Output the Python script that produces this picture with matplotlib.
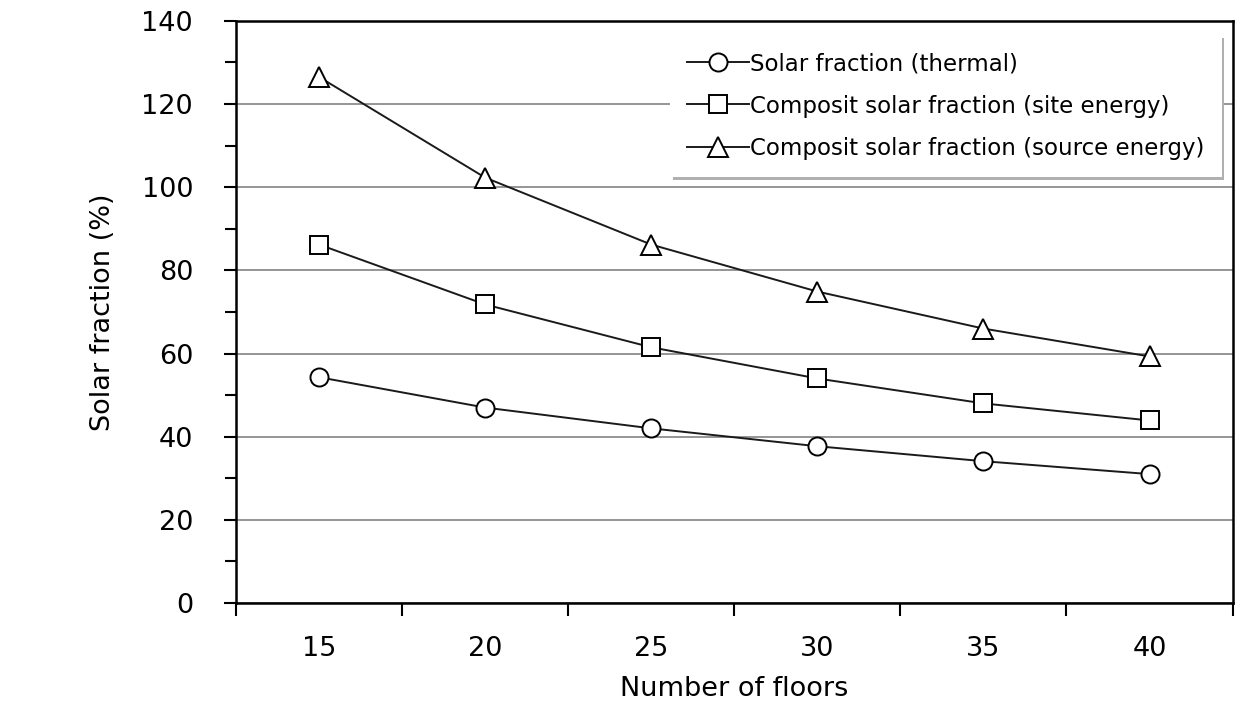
import matplotlib
matplotlib.use("Agg")
import matplotlib.pyplot as plt
from matplotlib.ticker import MultipleLocator, FixedLocator, NullFormatter

floors = ["15", "20", "25", "30", "35", "40"]
solar_thermal = [54.3, 47.0, 42.0, 37.7, 34.1, 31.0]
composite_site = [86.2, 71.8, 61.5, 54.0, 48.0, 43.9]
composite_source = [126.5, 102.3, 86.2, 74.9, 66.0, 59.3]
labels = ["Solar fraction (thermal)",
          "Composit solar fraction (site energy)",
          "Composit solar fraction (source energy)"]

plt.rcParams['font.family'] = ['DejaVu Sans']

fig = plt.figure(figsize=(12.59, 7.2), dpi=100)
ax = fig.add_axes([0.1875, 0.1625, 0.7915, 0.8085])

x = list(range(len(floors)))
common = dict(color="#1a1a1a", lw=1.4, markerfacecolor="white",
              markeredgecolor="black", markeredgewidth=1.4, zorder=3)
ax.plot(x, solar_thermal, marker="o", ms=13, label=labels[0], **common)
ax.plot(x, composite_site, marker="s", ms=12.5, label=labels[1], **common)
ax.plot(x, composite_source, marker="^", ms=14, label=labels[2], **common)

ax.set_xlim(-0.5, len(floors) - 0.5)
ax.set_ylim(0, 140)
ax.yaxis.set_major_locator(MultipleLocator(20))
ax.yaxis.set_minor_locator(MultipleLocator(10))
ax.grid(axis="y", which="major", color="#8c8c8c", lw=1.3, zorder=1)

ax.xaxis.set_major_locator(FixedLocator([i - 0.5 for i in range(len(floors) + 1)]))
ax.xaxis.set_major_formatter(NullFormatter())
ax.xaxis.set_minor_locator(FixedLocator(x))
ax.set_xticklabels(floors, minor=True)
ax.tick_params(axis="x", which="major", direction="out", length=9, width=1.5)
ax.tick_params(axis="x", which="minor", length=0, pad=24, labelsize=19.5)
ax.tick_params(axis="y", which="major", direction="out", length=9, width=1.5, labelsize=19.5, pad=22)
ax.tick_params(axis="y", which="minor", direction="out", length=8, width=1.5)

for s in ax.spines.values():
    s.set_linewidth(1.8)
    s.set_color("black")

ax.set_xlabel("Number of floors", fontsize=19.5, labelpad=10)
ax.set_ylabel("Solar fraction (%)", fontsize=19.5, labelpad=18)

leg = ax.legend(loc="upper right", bbox_to_anchor=(0.989, 0.976), fontsize=16.5,
                frameon=True, fancybox=False, shadow={'color': '#b0b0b0', 'alpha': 1.0},
                borderpad=0.75, handlelength=2.7, handletextpad=0.05, labelspacing=0.85,
                borderaxespad=0)
leg.get_frame().set_edgecolor("white")
leg.get_frame().set_linewidth(0)
leg.set_zorder(5)

fig.savefig("out.png", dpi=100)
